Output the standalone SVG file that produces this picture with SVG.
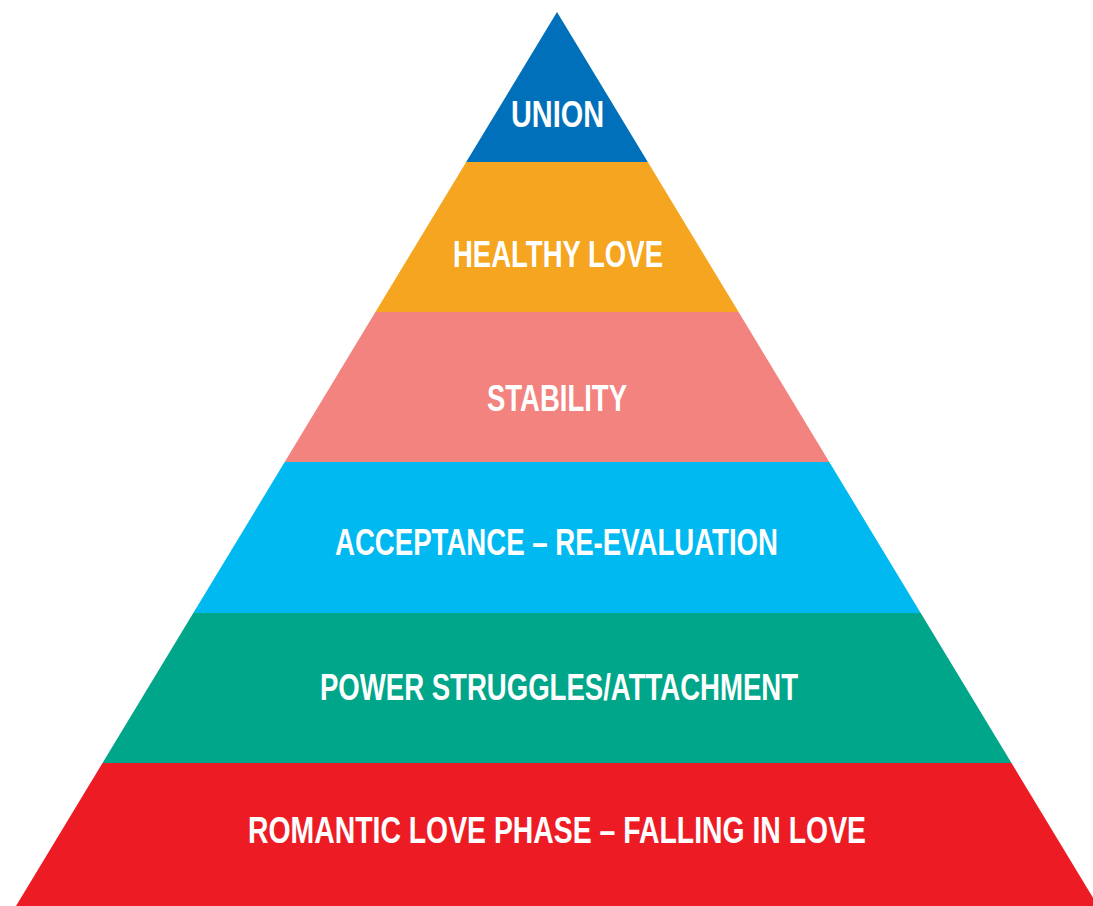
<svg xmlns="http://www.w3.org/2000/svg" width="1093" height="906" viewBox="0 0 1093 906">
  <style>
    .lbl { font-family: "Liberation Sans", Arial, sans-serif; font-weight: bold; font-size: 36px; fill: #ffffff; }
  </style>
  <rect width="1093" height="906" fill="#ffffff"/>
  <!-- Pyramid tiers, apex at (557,12), base spans 16..1098 at y=906 -->
  <g id="tier-union">
    <polygon points="557,12 647.8,162 466.2,162" fill="#0070BA"/>
    <text class="lbl" x="511" y="127" textLength="93" lengthAdjust="spacingAndGlyphs">UNION</text>
  </g>
  <g id="tier-healthy-love">
    <polygon points="466.2,162 647.8,162 738.6,312 375.4,312" fill="#F5A51F"/>
    <text class="lbl" x="453" y="267" textLength="210" lengthAdjust="spacingAndGlyphs">HEALTHY LOVE</text>
  </g>
  <g id="tier-stability">
    <polygon points="375.4,312 738.6,312 829.3,462 284.7,462" fill="#F2837F"/>
    <text class="lbl" x="487" y="411" textLength="140" lengthAdjust="spacingAndGlyphs">STABILITY</text>
  </g>
  <g id="tier-acceptance">
    <polygon points="284.7,462 829.3,462 920.7,613 193.3,613" fill="#00B9F1"/>
    <text class="lbl" x="335" y="555" textLength="443" lengthAdjust="spacingAndGlyphs">ACCEPTANCE – RE-EVALUATION</text>
  </g>
  <g id="tier-power-struggles">
    <polygon points="193.3,613 920.7,613 1011.5,763 102.5,763" fill="#00A68A"/>
    <text class="lbl" x="320" y="700" textLength="478" lengthAdjust="spacingAndGlyphs">POWER STRUGGLES/ATTACHMENT</text>
  </g>
  <g id="tier-romantic-love">
    <polygon points="102.5,763 1011.5,763 1098,906 16,906" fill="#ED1C24"/>
    <text class="lbl" x="248" y="843" textLength="618" lengthAdjust="spacingAndGlyphs">ROMANTIC LOVE PHASE – FALLING IN LOVE</text>
  </g>
  <g id="connectors"/>
</svg>
